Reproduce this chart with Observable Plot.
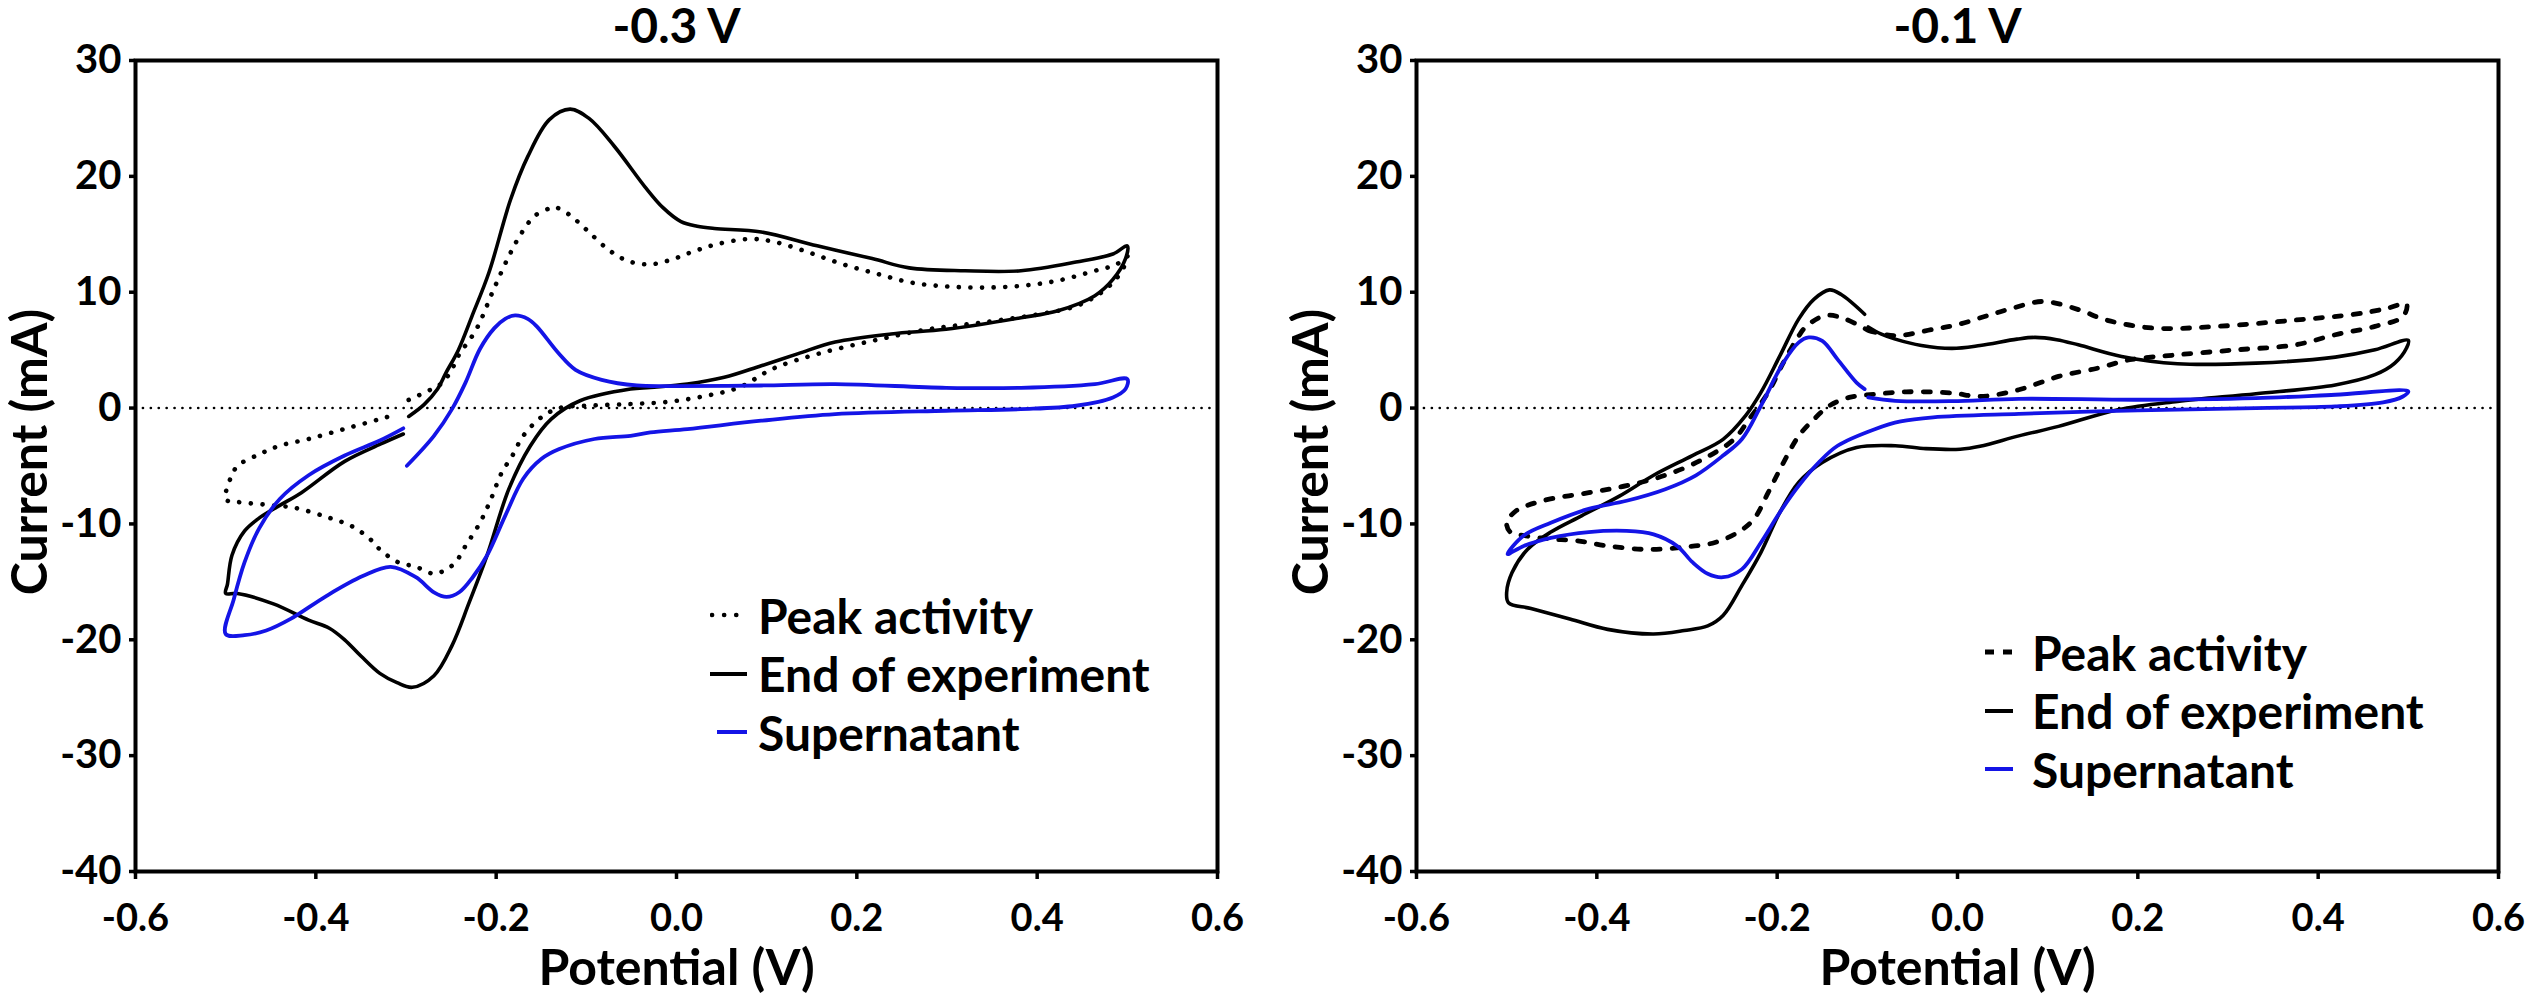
<!DOCTYPE html>
<html><head><meta charset="utf-8">
<script src="https://cdn.jsdelivr.net/npm/d3@7"></script>
<script src="https://cdn.jsdelivr.net/npm/@observablehq/plot@0.6"></script>
<style>
body{margin:0;background:#fff;}
#wrap{position:relative;width:2533px;height:1001px;display:flex;font-family:Lato,sans-serif;font-weight:700;background:#fff;}
.legend{position:absolute;font-size:48px;color:#000;font-family:Lato,sans-serif;font-weight:700;}
.row{display:flex;align-items:center;height:58.5px;white-space:nowrap;}
.row svg{flex:none;}
</style></head><body><div id="wrap"></div>
<script>
// Axis ticks
const xTicks = [-0.6, -0.4, -0.2, 0, 0.2, 0.4, 0.6];
const yTicks = [-40, -30, -20, -10, 0, 10, 20, 30];
const panelTitles = ["-0.3 V", "-0.1 V"];
const seriesNames = ["Peak activity", "End of experiment", "Supernatant"];

// Left panel (-0.3 V): [potential V, current mA]
const leftPeak = [
[-0.297,0.7],[-0.275,1.5],[-0.261,2.1],[-0.250,3.2],[-0.242,4.5],[-0.222,6.8],[-0.203,10.2],[-0.186,13.1],[-0.172,15.1],[-0.157,16.6],[-0.140,17.25],[-0.133,17.3],[-0.119,16.7],[-0.100,15.4],[-0.076,13.7],[-0.054,12.7],[-0.030,12.4],[-0.006,12.8],[0.018,13.5],[0.045,14.15],[0.082,14.6],[0.111,14.3],[0.148,13.4],[0.185,12.4],[0.222,11.6],[0.259,10.85],[0.299,10.5],[0.340,10.4],[0.382,10.55],[0.423,11.0],[0.464,11.85],[0.488,12.4],[0.500,13.1],
[0.497,12.3],[0.486,11.0],[0.468,9.8],[0.443,8.8],[0.402,8.1],[0.340,7.4],[0.279,6.8],[0.217,5.8],[0.156,4.66],[0.107,3.4],[0.070,1.8],[0.033,1.06],[-0.008,0.55],[-0.051,0.35],[-0.099,0.2],[-0.130,0.0],[-0.150,-0.8],[-0.170,-2.4],[-0.182,-4.1],[-0.194,-5.6],[-0.206,-7.9],[-0.218,-9.9],[-0.234,-11.9],[-0.245,-13.3],[-0.257,-14.0],[-0.269,-14.3],[-0.289,-13.7],[-0.309,-13.3],[-0.329,-12.2],[-0.340,-11.3],[-0.360,-10.2],[-0.388,-9.4],[-0.424,-8.6],[-0.447,-8.4],[-0.487,-8.1],[-0.500,-7.9],
[-0.499,-7.0],[-0.493,-5.8],[-0.487,-5.0],[-0.463,-4.0],[-0.440,-3.25],[-0.408,-2.67],[-0.368,-1.8],[-0.329,-0.95],[-0.309,-0.5]
];
const leftEnd = [
[-0.297,-0.72],[-0.280,0.3],[-0.265,1.64],[-0.256,3.0],[-0.242,5.0],[-0.227,7.9],[-0.208,11.7],[-0.184,18.0],[-0.165,21.7],[-0.141,24.9],[-0.118,25.8],[-0.097,25.0],[-0.069,22.6],[-0.035,19.1],[-0.015,17.3],[0.005,16.1],[0.023,15.7],[0.042,15.5],[0.094,15.2],[0.156,14.0],[0.217,12.9],[0.258,12.1],[0.320,11.85],[0.382,11.85],[0.443,12.6],[0.484,13.3],[0.500,14.0],
[0.498,12.9],[0.484,11.1],[0.464,9.7],[0.423,8.4],[0.382,7.8],[0.299,6.8],[0.238,6.4],[0.176,5.7],[0.135,4.7],[0.094,3.65],[0.053,2.65],[0.012,2.07],[-0.029,1.78],[-0.051,1.64],[-0.107,0.63],[-0.139,-0.95],[-0.162,-3.25],[-0.186,-7.0],[-0.210,-12.7],[-0.230,-16.8],[-0.249,-20.5],[-0.269,-23.1],[-0.293,-24.1],[-0.310,-23.7],[-0.329,-22.9],[-0.350,-21.4],[-0.368,-20.0],[-0.385,-19.0],[-0.408,-18.3],[-0.447,-16.9],[-0.487,-16.0],[-0.500,-16.0],
[-0.498,-15.2],[-0.493,-12.7],[-0.479,-10.6],[-0.463,-9.5],[-0.440,-8.4],[-0.416,-7.3],[-0.368,-4.6],[-0.328,-3.1],[-0.303,-2.24]
];
const leftSup = [
[-0.299,-4.98],[-0.269,-2.4],[-0.249,-0.09],[-0.234,2.2],[-0.218,5.1],[-0.202,6.9],[-0.190,7.7],[-0.179,8.0],[-0.165,7.7],[-0.155,7.05],[-0.131,4.75],[-0.112,3.3],[-0.083,2.44],[-0.044,1.95],[0.0,1.9],[0.094,1.95],[0.176,2.07],[0.299,1.75],[0.382,1.75],[0.464,2.07],[0.500,2.5],
[0.498,1.64],[0.484,0.92],[0.443,0.2],[0.382,-0.09],[0.299,-0.23],[0.176,-0.52],[0.094,-1.09],[0.012,-1.81],[-0.029,-2.1],[-0.051,-2.4],[-0.091,-2.67],[-0.130,-3.54],[-0.150,-4.4],[-0.170,-6.1],[-0.190,-9.3],[-0.210,-12.7],[-0.226,-14.6],[-0.241,-15.9],[-0.255,-16.3],[-0.269,-15.9],[-0.289,-14.6],[-0.317,-13.7],[-0.348,-14.5],[-0.388,-16.2],[-0.428,-18.2],[-0.455,-19.2],[-0.479,-19.6],[-0.500,-19.5],
[-0.491,-16.5],[-0.479,-13.3],[-0.463,-10.4],[-0.440,-7.85],[-0.408,-5.8],[-0.368,-4.1],[-0.329,-2.8],[-0.303,-1.75]
];

// Right panel (-0.1 V)
const rightPeak = [
[-0.099,6.7],[-0.069,6.24],[-0.027,6.8],[0.0,7.2],[0.030,7.9],[0.060,8.6],[0.095,9.2],[0.134,8.5],[0.165,7.6],[0.218,6.9],[0.288,7.05],[0.375,7.6],[0.441,8.1],[0.476,8.6],[0.498,9.0],
[0.494,7.9],[0.463,7.05],[0.419,6.33],[0.375,5.46],[0.310,5.03],[0.244,4.6],[0.191,4.17],[0.156,3.45],[0.112,2.73],[0.068,1.58],[0.025,1.0],[-0.006,1.3],[-0.057,1.4],[-0.091,1.2],[-0.120,0.92],[-0.142,0.2],[-0.159,-0.95],[-0.176,-2.4],[-0.193,-4.7],[-0.210,-7.3],[-0.226,-9.6],[-0.243,-10.7],[-0.269,-11.6],[-0.303,-12.0],[-0.345,-12.2],[-0.388,-11.9],[-0.422,-11.45],[-0.451,-11.3],[-0.481,-11.0],[-0.496,-10.7],[-0.500,-9.9],
[-0.490,-8.9],[-0.460,-8.0],[-0.409,-7.3],[-0.367,-6.7],[-0.324,-5.8],[-0.282,-4.4],[-0.248,-2.7],[-0.231,-0.95],[-0.210,1.35],[-0.193,3.94],[-0.176,6.24],[-0.167,7.1],[-0.146,8.0],[-0.125,7.7],[-0.099,6.7]
];
const rightEnd = [
[-0.099,7.0],[-0.085,6.4],[-0.069,5.95],[-0.040,5.4],[-0.006,5.15],[0.025,5.4],[0.066,5.95],[0.086,6.1],[0.110,5.9],[0.134,5.46],[0.182,4.46],[0.244,3.83],[0.331,3.88],[0.419,4.4],[0.463,5.03],[0.500,5.84],
[0.498,5.18],[0.485,3.88],[0.463,2.88],[0.419,2.0],[0.331,1.24],[0.244,0.58],[0.178,-0.14],[0.112,-1.58],[0.068,-2.4],[0.025,-3.3],[0.003,-3.55],[-0.035,-3.5],[-0.069,-3.25],[-0.112,-3.4],[-0.150,-4.7],[-0.176,-6.4],[-0.197,-9.0],[-0.218,-12.45],[-0.239,-15.3],[-0.260,-17.9],[-0.277,-18.8],[-0.303,-19.2],[-0.337,-19.5],[-0.388,-19.1],[-0.430,-18.2],[-0.473,-17.3],[-0.498,-16.8],[-0.500,-15.9],
[-0.494,-14.2],[-0.477,-12.2],[-0.451,-10.7],[-0.417,-9.3],[-0.375,-7.6],[-0.337,-5.8],[-0.294,-4.1],[-0.260,-2.7],[-0.235,-0.66],[-0.218,1.35],[-0.197,4.5],[-0.176,7.7],[-0.159,9.4],[-0.142,10.2],[-0.129,9.8],[-0.103,8.1]
];
const rightSup = [
[-0.099,0.92],[-0.069,0.63],[-0.006,0.6],[0.068,0.8],[0.200,0.72],[0.331,0.86],[0.419,1.15],[0.500,1.44],
[0.494,1.0],[0.472,0.49],[0.419,0.14],[0.331,0.0],[0.200,-0.2],[0.068,-0.5],[-0.027,-0.8],[-0.063,-1.15],[-0.091,-1.8],[-0.133,-3.25],[-0.154,-4.7],[-0.176,-6.7],[-0.197,-9.0],[-0.218,-11.6],[-0.239,-13.9],[-0.260,-14.6],[-0.277,-14.3],[-0.294,-13.3],[-0.311,-11.9],[-0.337,-10.9],[-0.367,-10.6],[-0.409,-10.7],[-0.451,-11.2],[-0.481,-11.9],[-0.499,-12.6],
[-0.481,-11.0],[-0.451,-9.9],[-0.409,-8.7],[-0.367,-8.0],[-0.324,-7.0],[-0.290,-5.8],[-0.260,-4.1],[-0.239,-2.67],[-0.218,0.2],[-0.193,3.94],[-0.176,5.67],[-0.165,6.1],[-0.150,5.8],[-0.133,4.2],[-0.112,2.2],[-0.103,1.64]
];

const BLUE = "#1414e6";
const PLOT_W = 1082;

function panel(o) {
  const px = d => d[0], py = d => d[1];
  return Plot.plot({
    width: o.width, height: 1001,
    marginLeft: o.marginLeft, marginRight: o.marginRight, marginTop: 60, marginBottom: 130,
    style: {fontFamily: "Lato, sans-serif", fontWeight: 700, fontSize: "40px", background: "white", color: "black", overflow: "visible"},
    x: {domain: [-0.6, 0.6]},
    y: {domain: [-40, 30]},
    marks: [
      Plot.ruleY([0], {stroke: "black", strokeWidth: 2.6, strokeDasharray: "0.1,7.8", strokeLinecap: "round"}),
      Plot.line(o.peak, {x: px, y: py, curve: "catmull-rom", stroke: "black", strokeWidth: o.peakWidth, strokeDasharray: o.peakDash, strokeLinecap: o.peakCap}),
      Plot.line(o.end, {x: px, y: py, curve: "catmull-rom", stroke: "black", strokeWidth: 3.6}),
      Plot.line(o.sup, {x: px, y: py, curve: "catmull-rom", stroke: BLUE, strokeWidth: 3.8}),
      Plot.frame({stroke: "black", strokeWidth: 4}),
      Plot.axisX({ticks: xTicks, tickFormat: d => d.toFixed(1), tickSize: 8, tickPadding: 25, strokeWidth: 3.5, fontSize: 38, fontWeight: 700, label: null}),
      Plot.axisY({ticks: yTicks, tickFormat: d => String(d), tickSize: 6, tickPadding: 8, strokeWidth: 3.5, fontSize: 40, fontWeight: 700, label: null}),
      Plot.text([o.title], {text: d => d, frameAnchor: "top", dy: -33, fontSize: 48, fontWeight: 700, textAnchor: "middle", lineAnchor: "middle"}),
      Plot.text(["Potential (V)"], {text: d => d, frameAnchor: "bottom", dy: 97, fontSize: 50, fontWeight: 700, textAnchor: "middle", lineAnchor: "middle"}),
      Plot.text(["Current (mA)"], {text: d => d, frameAnchor: "middle", rotate: -90, dx: -(PLOT_W / 2 + 105), dy: -14, fontSize: 50, fontWeight: 700, textAnchor: "middle", lineAnchor: "middle"})
    ]
  });
}

const wrap = document.getElementById("wrap");
wrap.appendChild(panel({title: panelTitles[0], peak: leftPeak, end: leftEnd, sup: leftSup,
  peakDash: "0.1,11.5", peakWidth: 4.6, peakCap: "round", width: 1266, marginLeft: 135, marginRight: 49}));
wrap.appendChild(panel({title: panelTitles[1], peak: rightPeak, end: rightEnd, sup: rightSup,
  peakDash: "7,12", peakWidth: 4.8, peakCap: "round", width: 1267, marginLeft: 150, marginRight: 35}));

function legend(left, top, samples) {
  const div = document.createElement("div");
  div.className = "legend";
  div.style.left = left + "px";
  div.style.top = top + "px";
  seriesNames.forEach((name, i) => {
    const row = document.createElement("div");
    row.className = "row";
    row.innerHTML = samples[i] + `<span>${name}</span>`;
    div.appendChild(row);
  });
  wrap.appendChild(div);
}
legend(710, 586, [
  `<svg width="37" height="12" style="margin-right:11px"><line x1="2" x2="27" y1="6" y2="6" stroke="black" stroke-width="4.6" stroke-dasharray="0.1,12" stroke-linecap="round"/></svg>`,
  `<svg width="37" height="12" style="margin-right:11px"><line x1="0" x2="37" y1="6" y2="6" stroke="black" stroke-width="4"/></svg>`,
  `<svg width="37" height="12" style="margin-right:11px"><line x1="7" x2="37" y1="6" y2="6" stroke="${BLUE}" stroke-width="4"/></svg>`
]);
legend(1985, 623, [
  `<svg width="28" height="12" style="margin-right:19px"><line x1="0" x2="28" y1="6" y2="6" stroke="black" stroke-width="5" stroke-dasharray="9,9"/></svg>`,
  `<svg width="28" height="12" style="margin-right:19px"><line x1="0" x2="28" y1="6" y2="6" stroke="black" stroke-width="4"/></svg>`,
  `<svg width="28" height="12" style="margin-right:19px"><line x1="0" x2="28" y1="6" y2="6" stroke="${BLUE}" stroke-width="4"/></svg>`
]);
</script></body></html>
